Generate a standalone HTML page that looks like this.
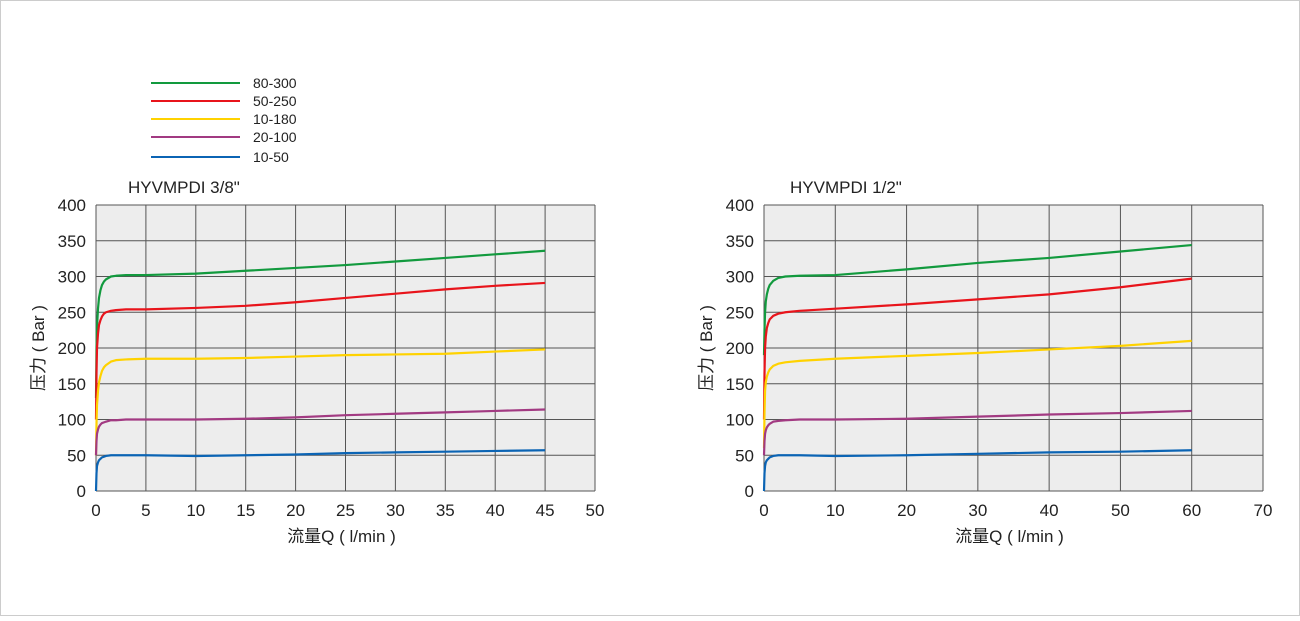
<!DOCTYPE html>
<html><head><meta charset="utf-8"><style>
body{margin:0;background:#fff}
svg text{font-family:"Liberation Sans","Noto Sans CJK SC",sans-serif;fill:#222}
</style></head><body>
<svg id="c" width="1300" height="616" viewBox="0 0 1300 616" xmlns="http://www.w3.org/2000/svg">
<rect x="0.5" y="0.5" width="1299" height="615" fill="#fff" stroke="#ccc"/>
<g id="legend"></g>
<g id="left"></g>
<g id="right"></g>
</svg>
<script>
const seriesNames = ["80-300","50-250","10-180","20-100","10-50"];
const seriesColors = ["#129a3e","#e8141b","#ffd200","#a23a82","#0b64b4"];
const yTicks = [0,50,100,150,200,250,300,350,400];
const leftXTicks = [0,5,10,15,20,25,30,35,40,45,50];
const rightXTicks = [0,10,20,30,40,50,60,70];
const leftX = [0,0.05,0.1,0.2,0.3,0.45,0.6,0.8,1,1.5,2,3,5,10,15,20,25,30,35,40,45];
const leftGreen  = [130,200,230,255,270,281,288,293,296,300,301,302,302,304,308,312,316,321,326,331,336];
const leftRed    = [100,165,200,220,232,239,244,248,250,252,253,254,254,256,259,264,270,276,282,287,291];
const leftYellow = [50,95,120,140,152,161,168,173,176,181,183,184,185,185,186,188,190,191,192,195,198];
const leftPurple = [50,70,80,86,90,93,95,96,97,99,99,100,100,100,101,103,106,108,110,112,114];
const leftBlue   = [0,25,35,40,43,45,47,48,49,50,50,50,50,49,50,51,53,54,55,56,57];
const rightX = [0,0.07,0.15,0.25,0.4,0.6,0.8,1.3,2,3,5,10,20,30,40,50,60];
const rightGreen  = [190,225,250,265,275,283,288,294,298,300,301,302,310,319,326,335,344];
const rightRed    = [100,165,200,216,228,235,240,245,248,250,252,255,261,268,275,285,297];
const rightYellow = [60,110,140,152,160,166,170,175,178,180,182,185,189,193,198,203,210];
const rightPurple = [50,70,80,85,89,92,94,97,98,99,100,100,101,104,107,109,112];
const rightBlue   = [0,25,35,40,43,45,47,49,50,50,50,49,50,52,54,55,57];

const NS="http://www.w3.org/2000/svg";
function mk(tag,attrs,parent,text){const e=document.createElementNS(NS,tag);for(const k in attrs)e.setAttribute(k,attrs[k]);if(text!==undefined)e.textContent=text;parent.appendChild(e);return e;}

const lg=document.getElementById('legend');
seriesNames.forEach((n,i)=>{
  const y=[83,101,119,137,157][i];
  const l=mk('line',{x1:151,x2:240,y1:y,y2:y,stroke:seriesColors[i],'stroke-width':2},lg);
  
  
  const t=mk('text',{x:253,y:y+5,'font-size':14},lg,n);
  
  
});

function chart(g,x0,x1,xmax,xTicks,title,titleX,xs,series){
  const yTop=205,yBot=491;
  const sx=v=>x0+(x1-x0)*v/xmax, sy=v=>yBot-(yBot-yTop)*v/400;
  const bg=mk('rect',{x:x0,y:yTop,width:x1-x0,height:yBot-yTop,fill:'#ededed'},g);
  
  
  xTicks.forEach(v=>{
    const l=mk('line',{x1:sx(v),x2:sx(v),y1:yTop,y2:yBot,stroke:'#555','stroke-width':1},g);
    
    
    const t=mk('text',{x:sx(v),y:516,'font-size':17,'text-anchor':'middle'},g,String(v));
    
    
  });
  yTicks.forEach(v=>{
    const l=mk('line',{x1:x0,x2:x1,y1:sy(v),y2:sy(v),stroke:'#555','stroke-width':1},g);
    
    
    const t=mk('text',{x:x0-10,y:sy(v)+6,'font-size':17,'text-anchor':'end'},g,String(v));
    
    
  });
  series.forEach((arr,i)=>{
    const d=arr.map((v,j)=>(j?'L':'M')+sx(xs[j]).toFixed(2)+','+sy(v).toFixed(2)).join(' ');
    const p=mk('path',{d:d,fill:'none',stroke:seriesColors[i],'stroke-width':2.2,'stroke-linejoin':'round'},g);
    
    
  });
  const tt=mk('text',{x:titleX,y:193,'font-size':17},g,title);
  
  
  const xt=mk('text',{x:(x0+x1)/2-4,y:542,'font-size':17,'text-anchor':'middle'},g,'流量Q ( l/min )');
  
  
  const yx=x0-52;
  const yt=mk('text',{x:yx,y:348,'font-size':17,'text-anchor':'middle',transform:'rotate(-90 '+yx+' 348)'},g,'压力 ( Bar )');
  
  
}
chart(document.getElementById('left'),96,595,50,leftXTicks,'HYVMPDI 3/8"',128,leftX,[leftGreen,leftRed,leftYellow,leftPurple,leftBlue]);
chart(document.getElementById('right'),764,1263,70,rightXTicks,'HYVMPDI 1/2"',790,rightX,[rightGreen,rightRed,rightYellow,rightPurple,rightBlue]);
</script>
</body></html>
